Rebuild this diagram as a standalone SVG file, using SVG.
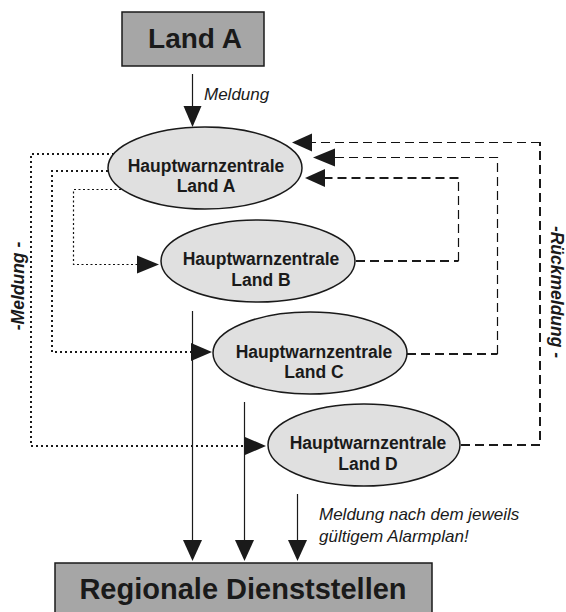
<svg xmlns="http://www.w3.org/2000/svg" width="566" height="612" viewBox="0 0 566 612">
<defs>
<style>
.box{fill:#a6a6a6;stroke:#1a1a1a;stroke-width:1.5}
.ell{fill:#e0e0e0;stroke:#1a1a1a;stroke-width:1.5}
.nt{font-family:"Liberation Sans",Arial,sans-serif;font-weight:bold;font-size:17.5px;fill:#1a1a1a;text-anchor:middle}
.lbl{font-family:"Liberation Sans",Arial,sans-serif;font-style:italic;font-size:17px;fill:#1a1a1a}
.side{font-family:"Liberation Sans",Arial,sans-serif;font-style:italic;font-weight:bold;font-size:17.5px;fill:#1a1a1a;text-anchor:middle}
.solid{fill:none;stroke:#1a1a1a;stroke-width:1.2}
.dot{fill:none;stroke:#1a1a1a;stroke-width:2;stroke-dasharray:2 3}
.dotthin{fill:none;stroke:#111;stroke-width:1.2;stroke-dasharray:2 2.5}
.dash{fill:none;stroke:#1a1a1a;stroke-width:2;stroke-dasharray:9 5}
.dashthin{fill:none;stroke:#111;stroke-width:1.2;stroke-dasharray:9 5}
.ah{fill:#1a1a1a}
</style>
</defs>
<rect width="566" height="612" fill="#ffffff"/>

<g id="connectors">
  <!-- Land A -> Hauptwarnzentrale A -->
  <path class="solid" d="M192.5 74 V108"/>
  <polygon class="ah" points="183.5,106 201.5,106 192.5,127"/>
  <text class="lbl" x="204" y="100">Meldung</text>

  <!-- dotted Meldung lines -->
  <path class="dot" d="M114 154 H31 V446 H246"/>
  <polygon class="ah" points="245,437 245,455 266,446"/>
  <path class="dot" d="M108 171 H52 V352 H192"/>
  <polygon class="ah" points="191,343 191,361 212,352"/>
  <path class="dotthin" d="M121 189.5 H73.5 V264.5 H138"/>
  <polygon class="ah" points="137,255.5 137,273.5 159,264.5"/>
  <text class="side" transform="translate(23.5,286) rotate(-90)">-Meldung -</text>

  <!-- dashed Rückmeldung lines -->
  <path class="dash" d="M356 261 H458.5"/>
  <path class="dashthin" d="M458.5 261 V178"/>
  <path class="dash" d="M458.5 178 H324"/>
  <polygon class="ah" points="325,169 325,187 305,178"/>

  <path class="dash" d="M407 354 H497.5"/>
  <path class="dashthin" d="M497.5 354 V157.5 H334"/>
  <polygon class="ah" points="335,148.5 335,166.5 313,157.5"/>

  <path class="dash" d="M461 445 H540 V142"/>
  <path class="dashthin" d="M540 142.5 H311"/>
  <polygon class="ah" points="312,133.5 312,151.5 292,142.5"/>
  <text class="side" transform="translate(550.5,292) rotate(90)">-Rückmeldung -</text>

  <!-- to Regionale Dienststellen -->
  <path class="solid" d="M192.5 311 V542"/>
  <polygon class="ah" points="183,540 202,540 192.5,561"/>
  <path class="solid" d="M244.5 402 V542"/>
  <polygon class="ah" points="235,540 254,540 244.5,561"/>
  <path class="solid" d="M297.5 494 V542"/>
  <polygon class="ah" points="288,540 307,540 297.5,561"/>
  <text class="lbl" x="319" y="520">Meldung nach dem jeweils</text>
  <text class="lbl" x="319" y="542">gültigem Alarmplan!</text>
</g>

<g id="landA">
  <rect class="box" x="122" y="12" width="142" height="54"/>
  <text x="195" y="48" style="font-family:'Liberation Sans',Arial,sans-serif;font-weight:bold;font-size:28px;fill:#1a1a1a;text-anchor:middle">Land A</text>
</g>

<g id="hwzA">
  <ellipse class="ell" cx="205" cy="168" rx="97" ry="41"/>
  <text class="nt" x="206" y="172">Hauptwarnzentrale</text>
  <text class="nt" x="206" y="192">Land A</text>
</g>

<g id="hwzB">
  <ellipse class="ell" cx="258" cy="261" rx="97" ry="41"/>
  <text class="nt" x="261" y="265">Hauptwarnzentrale</text>
  <text class="nt" x="261" y="286">Land B</text>
</g>

<g id="hwzC">
  <ellipse class="ell" cx="310" cy="353" rx="97" ry="41"/>
  <text class="nt" x="314" y="358">Hauptwarnzentrale</text>
  <text class="nt" x="314" y="378">Land C</text>
</g>

<g id="hwzD">
  <ellipse class="ell" cx="364" cy="445" rx="96" ry="41"/>
  <text class="nt" x="368" y="449">Hauptwarnzentrale</text>
  <text class="nt" x="368" y="470">Land D</text>
</g>

<g id="regional">
  <rect class="box" x="55" y="563" width="377" height="60"/>
  <text x="243" y="599" style="font-family:'Liberation Sans',Arial,sans-serif;font-weight:bold;font-size:29px;fill:#1a1a1a;text-anchor:middle">Regionale Dienststellen</text>
</g>
</svg>
